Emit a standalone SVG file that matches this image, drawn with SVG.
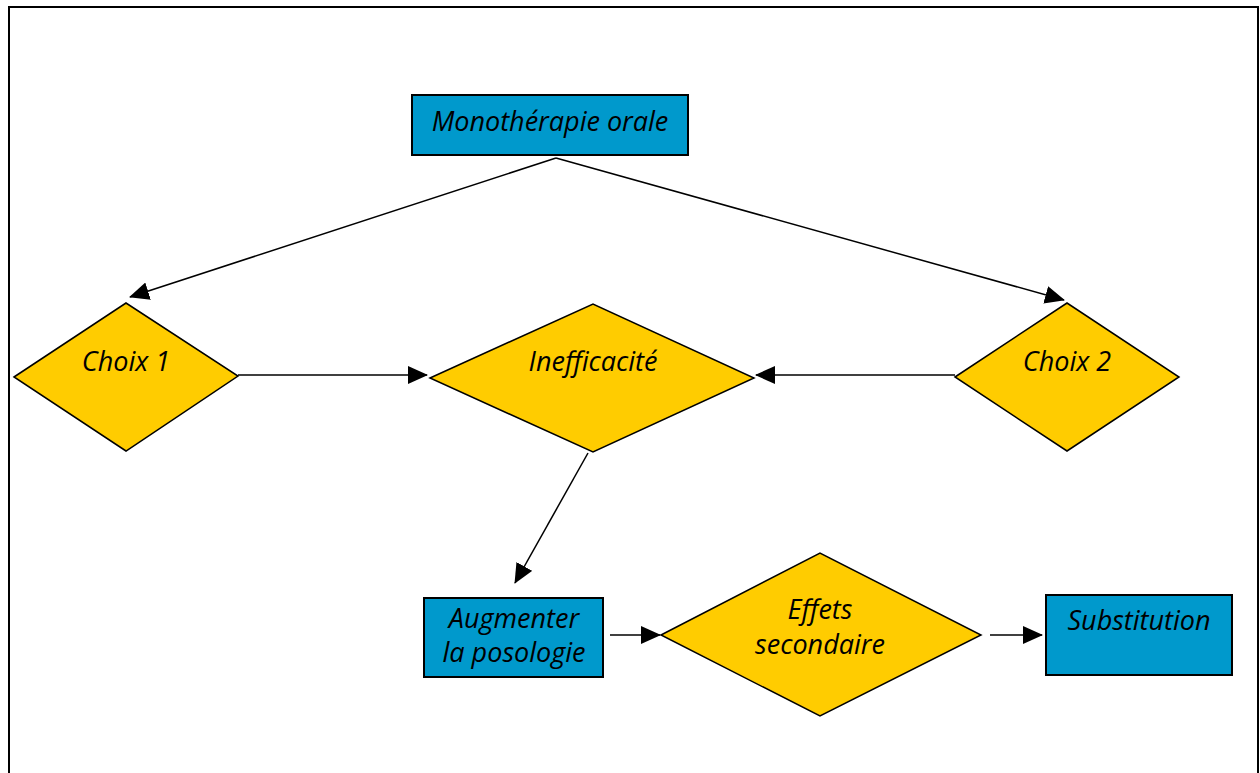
<svg xmlns="http://www.w3.org/2000/svg" width="1260" height="773" viewBox="0 0 1260 773">
<style>
.box{fill:#0099CC;stroke:#000;stroke-width:2}
.dia{fill:#FFCC00;stroke:#000;stroke-width:1.5}
.t{font-family:"Open Sans","Liberation Sans",sans-serif;font-style:italic;font-size:27px;fill:#000;text-anchor:middle}
.c{stroke:#000;stroke-width:1.5;fill:none;marker-end:url(#ah)}
</style>
<defs>
<marker id="ah" markerWidth="20" markerHeight="18" refX="19" refY="9" orient="auto" markerUnits="userSpaceOnUse">
<path d="M0,0 L20,9 L0,18 Z" fill="#000"/>
</marker>
</defs>
<rect x="0" y="0" width="1260" height="773" fill="#fff"/>
<path d="M9,775 V7 H1258 V775" fill="none" stroke="#000" stroke-width="2"/>
<g id="connectors">
<path class="c" d="M556,158 L130,297"/>
<path class="c" d="M556,158 L1064,300"/>
<path class="c" d="M238,375 L427,375"/>
<path class="c" d="M955,375 L756,375"/>
<path class="c" d="M588,453 L515,583"/>
<path class="c" d="M610,635 L660,635"/>
<path class="c" d="M990,635 L1042,635"/>
</g>
<g id="mono"><rect class="box" x="412" y="95" width="276" height="60"/><text class="t" x="550" y="131">Monothérapie orale</text></g>
<g id="choix1"><polygon class="dia" points="14,377 126,303 238,376 126,451"/><text class="t" x="126" y="371">Choix 1</text></g>
<g id="inefficacite"><polygon class="dia" points="430,378 593,304 754,378 593,452"/><text class="t" x="593" y="371">Inefficacité</text></g>
<g id="choix2"><polygon class="dia" points="955,377 1067,303 1179,377 1067,451"/><text class="t" x="1067" y="371">Choix 2</text></g>
<g id="augmenter"><rect class="box" x="424" y="598" width="179" height="79"/><text class="t" x="514" y="628">Augmenter</text><text class="t" x="514" y="662">la posologie</text></g>
<g id="effets"><polygon class="dia" points="661,635 820,553 981,635 820,716"/><text class="t" x="820" y="619">Effets</text><text class="t" x="820" y="654">secondaire</text></g>
<g id="substitution"><rect class="box" x="1046" y="595" width="186" height="80"/><text class="t" x="1139" y="630">Substitution</text></g>
</svg>
